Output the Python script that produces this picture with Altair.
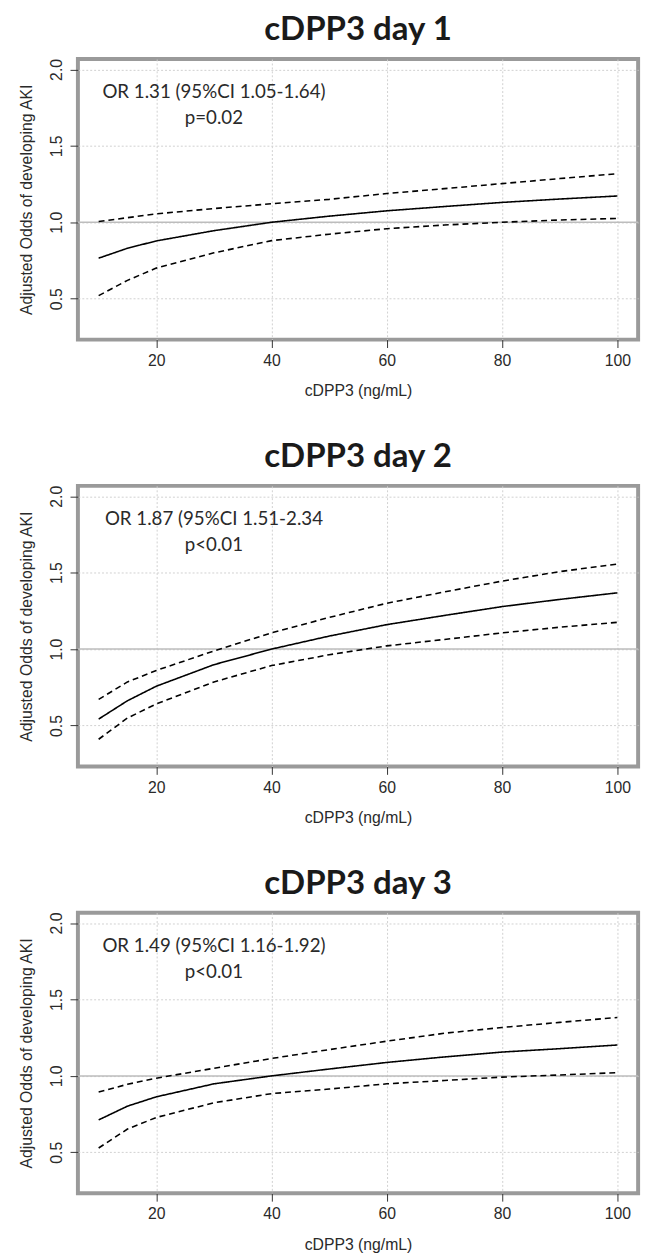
import altair as alt
import pandas as pd

# ---- data ----
x_vals = [10, 15, 20, 30, 40, 50, 60, 70, 80, 90, 100]

d1_est = [0.765, 0.830, 0.878, 0.945, 1.000, 1.040, 1.075, 1.103, 1.130, 1.152, 1.172]
d1_hi = [1.005, 1.030, 1.055, 1.090, 1.121, 1.150, 1.188, 1.220, 1.253, 1.286, 1.318]
d1_lo = [0.520, 0.620, 0.700, 0.800, 0.880, 0.922, 0.958, 0.982, 1.000, 1.015, 1.025]

d2_est = [0.542, 0.662, 0.757, 0.898, 1.000, 1.085, 1.160, 1.220, 1.278, 1.325, 1.368]
d2_hi = [0.671, 0.785, 0.860, 0.988, 1.106, 1.207, 1.300, 1.374, 1.445, 1.507, 1.556]
d2_lo = [0.410, 0.549, 0.641, 0.785, 0.892, 0.963, 1.021, 1.063, 1.106, 1.143, 1.175]

d3_est = [0.712, 0.802, 0.863, 0.948, 1.000, 1.045, 1.088, 1.124, 1.156, 1.178, 1.202]
d3_hi = [0.895, 0.945, 0.985, 1.050, 1.114, 1.172, 1.227, 1.279, 1.317, 1.350, 1.382]
d3_lo = [0.528, 0.652, 0.728, 0.824, 0.884, 0.914, 0.948, 0.970, 0.992, 1.006, 1.021]

titles = ["cDPP3 day 1", "cDPP3 day 2", "cDPP3 day 3"]
or_texts = ["OR 1.31 (95%CI 1.05-1.64)", "OR 1.87 (95%CI 1.51-2.34", "OR 1.49 (95%CI 1.16-1.92)"]
p_texts = ["p=0.02", "p<0.01", "p<0.01"]
text_x = [30, 30]
text_y = [1.85, 1.68]

x_ticks = [20, 40, 60, 80, 100]
y_ticks = [0.5, 1.0, 1.5, 2.0]
x_domain = [6.4, 103.6]
y_domain = [0.232, 2.068]

x_title = "cDPP3 (ng/mL)"
y_title = "Adjusted Odds of developing AKI"

panels = [(d1_est, d1_lo, d1_hi), (d2_est, d2_lo, d2_hi), (d3_est, d3_lo, d3_hi)]

W, H = 569, 285
AXIS_FONT = "Liberation Sans"
TXT_FONT = "Lato"
TXT_COLOR = "#2a2a2a"


def make_panel(i):
    est, lo, hi = panels[i]
    rows = []
    for name, vals in (("est", est), ("lo", lo), ("hi", hi)):
        for xv, yv in zip(x_vals, vals):
            rows.append({"x": xv, "y": yv, "series": name})
    df = pd.DataFrame(rows)

    xs = alt.Scale(domain=x_domain, nice=False, zero=False)
    ys = alt.Scale(domain=y_domain, nice=False, zero=False)

    xax = alt.Axis(
        values=x_ticks, title=x_title, grid=True, gridDash=[2, 2], gridColor="#d0d0d0",
        gridWidth=1, domain=False, ticks=True, tickSize=8, tickColor="#333333",
        labelFont=AXIS_FONT, labelFontSize=16, labelColor=TXT_COLOR, labelPadding=5,
        labelFlush=False, titleFont=AXIS_FONT, titleFontSize=16, titleFontWeight="normal",
        titleColor=TXT_COLOR, titleY=57, titleBaseline="alphabetic",
    )
    yax = alt.Axis(
        values=y_ticks, format=".1f", title=y_title, grid=True, gridDash=[2, 2],
        gridColor="#d0d0d0", gridWidth=1, domain=False, ticks=True, tickSize=8,
        tickColor="#333333", labelFont=AXIS_FONT, labelFontSize=16, labelColor=TXT_COLOR,
        labelAngle=270, labelAlign="center", labelBaseline="alphabetic", labelPadding=9,
        titleFont=AXIS_FONT, titleFontSize=16, titleFontWeight="normal", titleColor=TXT_COLOR,
        titleAngle=270, titleX=-47, titleY=H / 2, titleAlign="center", titleBaseline="alphabetic",
    )

    base = alt.Chart(df)
    lines = base.mark_line(color="black", strokeWidth=1.6).encode(
        x=alt.X("x:Q", scale=xs, axis=xax),
        y=alt.Y("y:Q", scale=ys, axis=yax),
        strokeDash=alt.StrokeDash(
            "series:N",
            scale=alt.Scale(domain=["est", "lo", "hi"], range=[[1, 0], [6, 4], [6, 4]]),
            legend=None,
        ),
    )

    ref = alt.Chart(pd.DataFrame({"y": [1.0]})).mark_rule(color="#bdbdbd", strokeWidth=1.5).encode(
        y=alt.Y("y:Q", scale=ys)
    )

    ann = pd.DataFrame({"x": text_x, "y": text_y, "t": [or_texts[i], p_texts[i]]})
    txt = alt.Chart(ann).mark_text(
        font=TXT_FONT, fontSize=19, color=TXT_COLOR, align="center", baseline="middle"
    ).encode(
        x=alt.X("x:Q", scale=xs),
        y=alt.Y("y:Q", scale=ys),
        text="t:N",
    )

    return alt.layer(ref, lines, txt).properties(
        width=W, height=H,
        title=alt.TitleParams(
            titles[i], font=TXT_FONT, fontSize=33.5, fontWeight="bold", color="#1a1a1a",
            anchor="middle", frame="group", baseline="alphabetic", offset=-15,
        ),
    )


chart = alt.vconcat(
    make_panel(0), make_panel(1), make_panel(2), spacing=148.5, bounds="flush"
).properties(
    padding={"left": 9, "top": -7, "right": 5, "bottom": 0}
).configure(
    background="white"
).configure_view(
    stroke="#9a9a9a", strokeWidth=4
)

chart.save("out.html", embed_options={"renderer": "svg", "actions": False})
